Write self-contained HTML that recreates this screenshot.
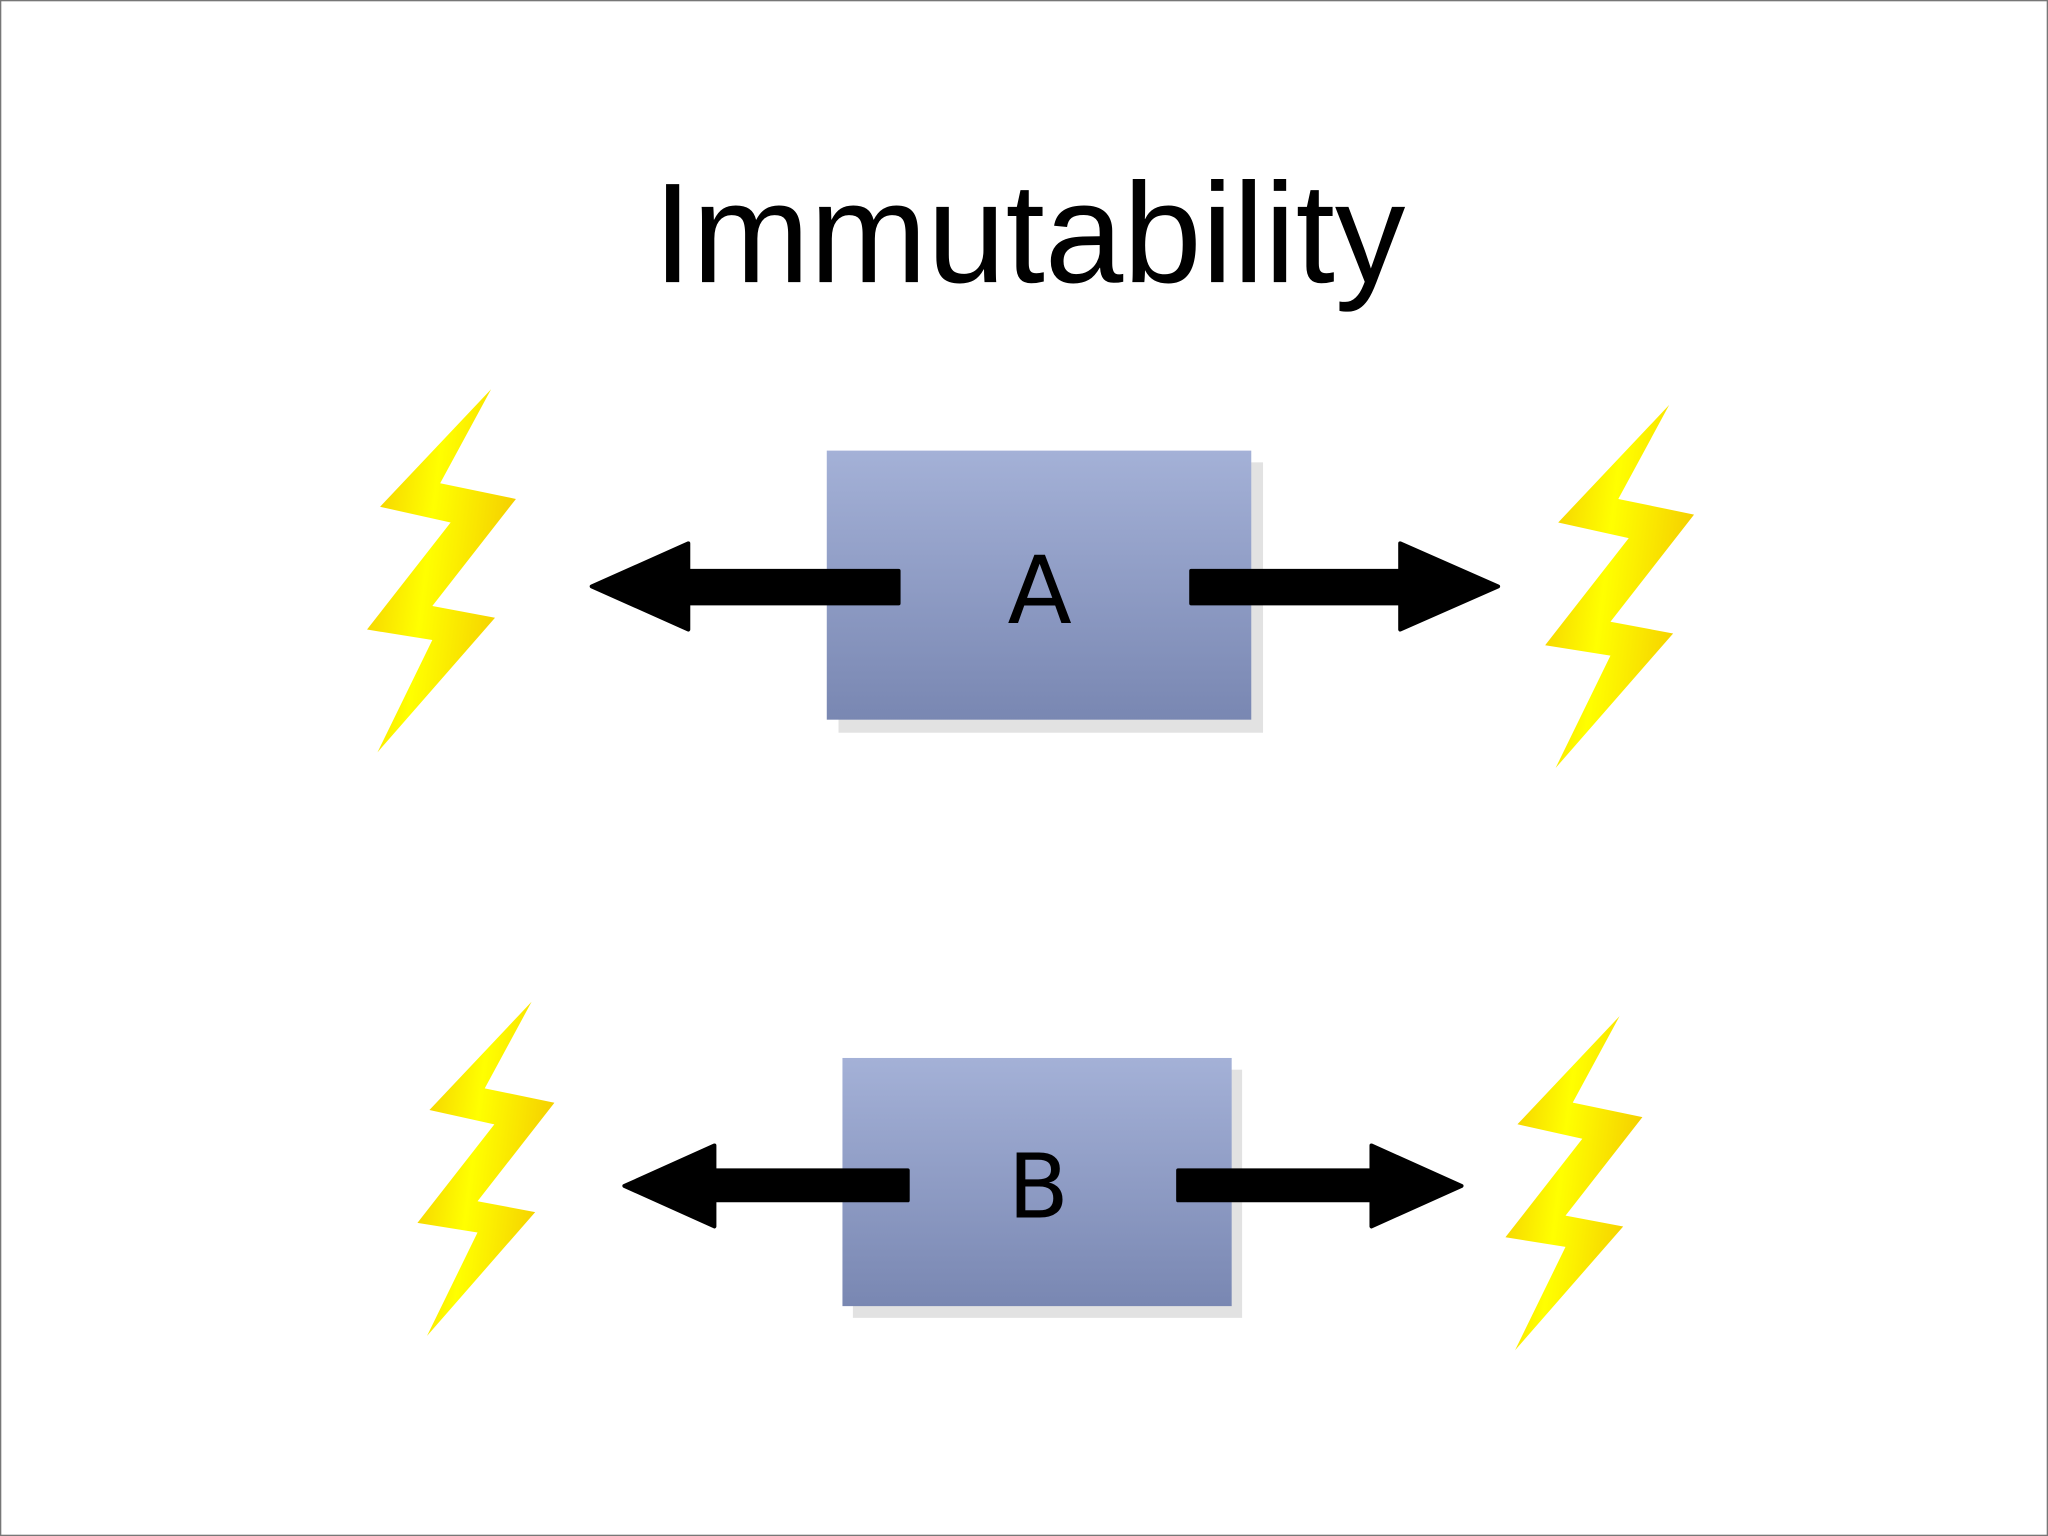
<!DOCTYPE html>
<html><head><meta charset="utf-8"><style>
html,body{margin:0;padding:0;background:#fff;}
svg{display:block;}
</style></head><body>
<svg width="2048" height="1536" viewBox="0 0 1568 1176" xmlns="http://www.w3.org/2000/svg">
<defs>
<linearGradient id="box" x1="0" y1="0" x2="0" y2="1">
<stop offset="0" stop-color="#a4b1d7"/><stop offset="1" stop-color="#7987b2"/>
</linearGradient>
<linearGradient id="bolt" x1="0" y1="0" x2="1" y2="0.3">
<stop offset="0" stop-color="#f2c400"/><stop offset="0.5" stop-color="#ffff00"/><stop offset="1" stop-color="#f5d000"/>
</linearGradient>
<polygon id="b" points="0,0 -85,90 -31,102 -95,184 -45,192 -87,278 3,175 -45,166 19,84 -39,72" fill="url(#bolt)"/>
</defs>
<rect x="0.5" y="0.5" width="1567" height="1175" fill="#fff" stroke="#777" stroke-width="1"/>
<text x="788" y="216" text-anchor="middle" font-family="Liberation Sans, Arial, sans-serif" font-size="109" textLength="576" lengthAdjust="spacingAndGlyphs" fill="#000">Immutability</text>

<rect x="642" y="354" width="325" height="207" fill="#e2e2e2"/>
<rect x="633" y="345" width="325" height="206" fill="url(#box)"/>
<rect x="653" y="819" width="298" height="190" fill="#e2e2e2"/>
<rect x="645" y="810" width="298" height="190" fill="url(#box)"/>

<text x="796" y="477" text-anchor="middle" font-family="DejaVu Sans, sans-serif" font-size="72" fill="#000">A</text>
<text x="795" y="932" text-anchor="middle" font-family="DejaVu Sans, sans-serif" font-size="68" fill="#000">B</text>

<g fill="#000" stroke="#000" stroke-width="3" stroke-linejoin="round">
<polygon points="688,437 527,437 527,416 453,449 527,482 527,462 688,462"/>
<polygon points="912,437 1072,437 1072,416 1147,449 1072,482 1072,462 912,462"/>
<polygon points="695,896 547,896 547,877 478,908 547,939 547,919 695,919"/>
<polygon points="902,896 1050,896 1050,877 1119,908 1050,939 1050,919 902,919"/>
</g>

<use href="#b" transform="translate(376,298)"/>
<use href="#b" transform="translate(1278,310)"/>
<use href="#b" transform="translate(407,767) scale(0.92)"/>
<use href="#b" transform="translate(1240,778) scale(0.92)"/>
</svg>
</body></html>
